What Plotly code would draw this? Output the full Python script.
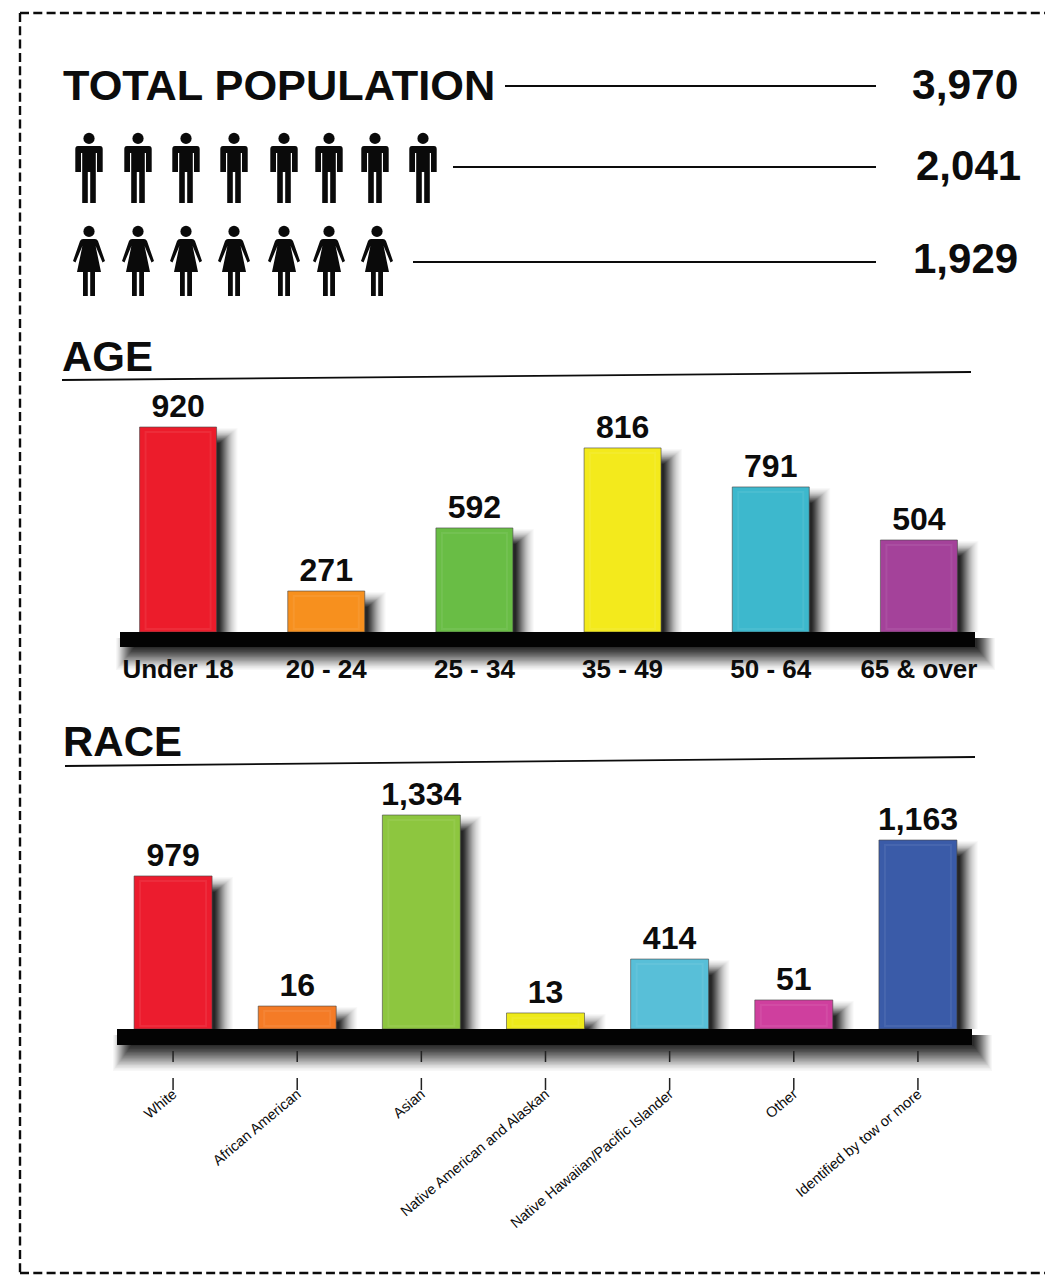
import plotly.graph_objects as go

W, H = 1045, 1275

# ---- data ----
TOTAL_LABELS = ["3,970", "2,041", "1,929"]
MEN_ICONS = 8
WOMEN_ICONS = 7

AGE_CATEGORIES = ["Under 18", "20 - 24", "25 - 34", "35 - 49", "50 - 64", "65 & over"]
AGE_LABELS = ["920", "271", "592", "816", "791", "504"]
# bar heights as drawn (the original graphic is not to scale with its printed labels)
AGE_DRAWN = [920, 184, 467, 826, 651, 413]
AGE_COLORS = ["#ec1c2b", "#f7901e", "#69bd45", "#f3ea1c", "#3db8cd", "#a4429a"]

RACE_CATEGORIES = ["White", "African American", "Asian", "Native American and Alaskan",
                   "Native Hawaiian/Pacific Islander", "Other", "Identified by tow or more"]
RACE_LABELS = ["979", "16", "1,334", "13", "414", "51", "1,163"]
RACE_DRAWN = [954, 143, 1334, 100, 436, 181, 1178]
RACE_COLORS = ["#ec1c2e", "#f47b26", "#8dc63f", "#eeea1a", "#58bfd8", "#cf3f9e", "#3a5ba8"]

FONT = "Liberation Sans"
INK = "#0c0c0c"


def fx(px):
    return px / W


def fy(px):
    return 1 - px / H


fig = go.Figure()
shapes, annotations = [], []


def text(x, y, s, size, anchor="left", bold=True):
    annotations.append(dict(
        x=fx(x), y=fy(y), xref="paper", yref="paper", text=f"<b>{s}</b>" if bold else s,
        showarrow=False, xanchor=anchor, yanchor="middle",
        font=dict(family=FONT, size=size, color=INK)))


def line(x0, y0, x1, y1, width=1.8, color=INK, dash=None):
    shapes.append(dict(type="line", xref="paper", yref="paper",
                       x0=fx(x0), y0=fy(y0), x1=fx(x1), y1=fy(y1),
                       line=dict(color=color, width=width, dash=dash)))


def rect_px(x0, y0, x1, y1, color, opacity=1.0):
    shapes.append(dict(type="rect", xref="paper", yref="paper", layer="below",
                       x0=fx(x0), y0=fy(y0), x1=fx(x1), y1=fy(y1),
                       fillcolor=color, opacity=opacity, line=dict(width=0)))


def add_chart(idx, cats, drawn, labels, colors, x_left, x_right, y_top, y_base, px_per_unit,
              bar_px, tick_font, ticklen, tickangle):
    suffix = "" if idx == 1 else str(idx)
    step = (x_right - x_left) / len(cats)
    y_range_max = (y_base - y_top) / px_per_unit
    # soft drop shadows: stacked translucent rectangles, denser towards the core
    layers = 18
    for i, v in enumerate(drawn):
        for k in range(layers):
            t = k / (layers - 1)
            left = i - (bar_px / 2 - 4) / step
            right = i + (bar_px / 2 + 21 - 18 * t) / step
            top = v - (1 + 15 * t) / px_per_unit
            if top <= 0:
                continue
            shapes.append(dict(type="rect", xref=f"x{suffix}", yref=f"y{suffix}", layer="below",
                               x0=left, x1=right, y0=0, y1=top,
                               fillcolor="#000000", opacity=0.025 + 0.2 * t * t, line=dict(width=0)))
    fig.add_trace(go.Bar(
        x=cats, y=drawn, text=labels, textposition="outside", cliponaxis=False,
        width=bar_px / step,
        marker=dict(color=colors, line=dict(color="rgba(70,70,70,0.6)", width=1)),
        textfont=dict(family=FONT, size=32, color=INK),
        texttemplate="<b>%{text}</b>", constraintext="none",
        xaxis=f"x{suffix}", yaxis=f"y{suffix}", showlegend=False, hoverinfo="skip"))
    # lighter inner bevel of each bar
    for i, v in enumerate(drawn):
        half = (bar_px / 2 - 6) / step
        if v * px_per_unit > 16:
            shapes.append(dict(type="rect", xref=f"x{suffix}", yref=f"y{suffix}", layer="above",
                               x0=i - half, x1=i + half,
                               y0=3 / px_per_unit, y1=v - 5 / px_per_unit,
                               fillcolor="rgba(255,255,255,0)",
                               line=dict(color="rgba(255,255,255,0.07)", width=2)))
    fig.update_layout({
        f"xaxis{suffix}": dict(
            domain=[fx(x_left), fx(x_right)], range=[-0.5, len(cats) - 0.5], type="category",
            anchor=f"y{suffix}", showgrid=False, zeroline=False, showline=False,
            ticks="outside", ticklen=ticklen, tickcolor="rgba(0,0,0,0)", tickangle=tickangle,
            tickfont=tick_font),
        f"yaxis{suffix}": dict(
            domain=[fy(y_base), fy(y_top)], range=[0, y_range_max], anchor=f"x{suffix}",
            visible=False, showgrid=False, zeroline=False),
    })


# drop shadows under the ground bands, then the bands
def band(x0, x1, y0, y1, fade_bottom):
    layers = 18
    for k in range(layers):
        t = k / (layers - 1)
        rect_px(x0 - 4 + 18 * t, y0 + 6, x1 + 20 - 18 * t,
                fade_bottom - (fade_bottom - y1 - 1) * t,
                "#000000", 0.03 + 0.12 * t)


add_chart(1, AGE_CATEGORIES, AGE_DRAWN, AGE_LABELS, AGE_COLORS, 104, 993, 395, 632, 205 / 920, 77,
          dict(family=FONT, size=26, color=INK, weight="bold"), 14, 0)
add_chart(2, RACE_CATEGORIES, RACE_DRAWN, RACE_LABELS, RACE_COLORS, 111, 980, 785, 1029, 214 / 1334, 78,
          dict(family=FONT, size=14.5, color=INK), 50, -40)

band(120, 975, 632, 647, 670)
rect_px(120, 632, 975, 647, "#030303")
band(117, 972, 1029, 1045, 1071)
rect_px(117, 1029, 972, 1045, "#030303")

# split tick marks under the race chart, tied to the category axis
for i in range(len(RACE_CATEGORIES)):
    for y0, y1 in ((1051, 1062), (1078, 1090)):
        shapes.append(dict(type="line", xref="x2", yref="paper", x0=i, x1=i, y0=fy(y0), y1=fy(y1),
                           line=dict(color="#222222", width=1.5)))

# header
text(61, 85, "TOTAL POPULATION", 43.3)
text(1020, 85, TOTAL_LABELS[0], 42.5, "right")
text(1023, 166, TOTAL_LABELS[1], 42, "right")
text(1020, 258, TOTAL_LABELS[2], 42, "right")
line(505, 86, 876, 86)
line(453, 167, 876, 167)
line(413, 262, 876, 262)

# section headings
text(60, 356, "AGE", 42)
line(62, 380, 971, 372)
text(61, 741, "RACE", 42)
line(65, 766, 975, 757)

# pictograms
MAN = [("M", -11, 13), ("Q", -13.7, 13, -13.7, 16), ("L", -13.7, 39), ("L", -8, 39), ("L", -8, 20),
       ("L", -6.8, 20), ("L", -6.8, 70), ("L", -1.2, 70), ("L", -1.2, 39), ("L", 1.2, 39), ("L", 1.2, 70),
       ("L", 6.8, 70), ("L", 6.8, 20), ("L", 8, 20), ("L", 8, 39), ("L", 13.7, 39), ("L", 13.7, 16),
       ("Q", 13.7, 13, 11, 13)]
WOMAN = [("M", -6, 13), ("L", 6, 13), ("Q", 8, 13, 9, 15), ("L", 16, 35), ("L", 13.5, 36.5), ("L", 6.6, 20),
         ("L", 12, 46), ("L", 6, 46), ("L", 6, 70), ("L", 1.2, 70), ("L", 1.2, 46), ("L", -1.2, 46),
         ("L", -1.2, 70), ("L", -6, 70), ("L", -6, 46), ("L", -12, 46), ("L", -6.6, 20), ("L", -13.5, 36.5),
         ("L", -16, 35), ("L", -9, 15), ("Q", -8, 13, -6, 13)]


def icon(template, cx, top):
    parts = []
    for seg in template:
        nums = seg[1:]
        coords = []
        for j in range(0, len(nums), 2):
            coords.append(f"{fx(cx + nums[j]):.5f},{fy(top + nums[j + 1]):.5f}")
        parts.append(seg[0] + " ".join(coords))
    shapes.append(dict(type="path", xref="paper", yref="paper", path=" ".join(parts) + " Z",
                       fillcolor="#0a0a0a", line=dict(width=0)))
    shapes.append(dict(type="circle", xref="paper", yref="paper",
                       x0=fx(cx - 5.6), x1=fx(cx + 5.6), y0=fy(top + 11), y1=fy(top - 0.2),
                       fillcolor="#0a0a0a", line=dict(width=0)))


MEN_X = [89, 138, 186, 234, 284, 329, 375, 423]
WOMEN_X = [89, 138, 186, 234, 284, 329, 377]
for cx in MEN_X[:MEN_ICONS]:
    icon(MAN, cx, 133)
for cx in WOMEN_X[:WOMEN_ICONS]:
    icon(WOMAN, cx, 226)

# dashed frame (open on the right, as cropped in the source)
DASH = "9px,4.3px"
line(20, 13, 1045, 13, width=2.4, dash=DASH)
line(20, 13, 20, 1273, width=2.4, dash=DASH)
line(20, 1273, 1045, 1273, width=2.4, dash=DASH)

fig.update_layout(width=W, height=H, margin=dict(l=0, r=0, t=0, b=0), paper_bgcolor="white",
                  plot_bgcolor="rgba(0,0,0,0)", shapes=shapes, annotations=annotations,
                  font=dict(family=FONT), showlegend=False)
fig.write_html("out.html", config=dict(displayModeBar=False),
               post_script="document.body.style.margin='0';document.body.style.overflow='hidden';")
